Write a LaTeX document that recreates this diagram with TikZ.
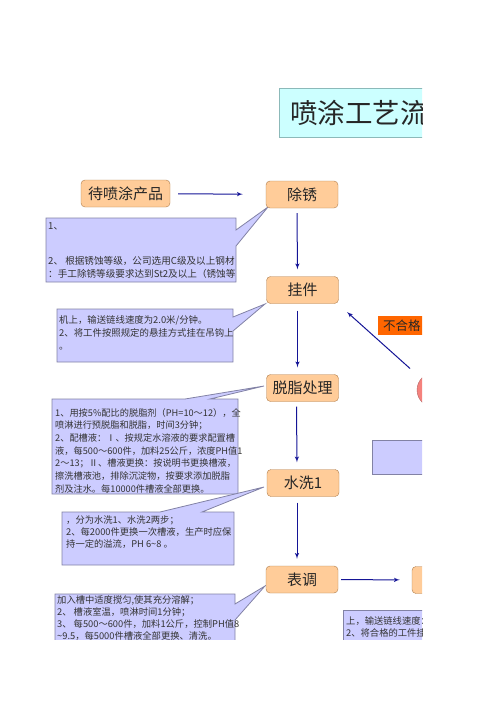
\documentclass[tikz,border=0pt]{standalone}
\usepackage{fontspec}
\setmainfont{Noto Sans CJK SC}
\usepackage{tikz}
\usetikzlibrary{arrows}
\definecolor{boxfill}{RGB}{255,204,153}
\definecolor{boxline}{RGB}{175,125,75}
\definecolor{notefill}{RGB}{204,204,255}
\definecolor{noteline}{RGB}{130,130,165}
\definecolor{titlefill}{RGB}{204,255,255}
\definecolor{titleline}{RGB}{140,185,185}
\definecolor{flowblue}{RGB}{20,20,150}
\definecolor{failfill}{RGB}{255,102,0}
\definecolor{checkfill}{RGB}{245,130,125}

\begin{document}
\begin{tikzpicture}[x=1pt,y=-1pt]

\tikzset{proc/.style = {shape=rectangle,rounded corners=4pt,draw=boxline,fill=boxfill,minimum width=72pt,minimum height=27pt,text=black!85,font=\fontsize{15}{18}\selectfont}}
\tikzset{note/.style = {draw=noteline,fill=notefill,line width=0.8pt}}
\tikzset{notetext/.style = {anchor=north west,inner sep=0pt,align=left,text=black!80,font=\fontsize{9.3}{12.2}\selectfont}}
\tikzset{edge/.style = {->,> = latex',draw=flowblue,line width=1pt}}

\useasboundingbox (0,0) rectangle (500,707);
\begin{scope}
\clip (0,0) rectangle (422,639);

% title
\node[draw=titleline,fill=titlefill,anchor=north west,minimum height=49pt,text width=160pt,inner xsep=11pt,align=left,text=black!85,font=\fontsize{27.5}{30}\selectfont] (title) at (279,88) {喷涂工艺流};

% notes
\draw[note] (46,218) -- (236,218) -- (236,230) -- (268,207) -- (236,246) -- (236,282) -- (46,282) -- cycle;
\draw[note] (57,309) -- (233,309) -- (233,317) -- (265,304) -- (233,331) -- (233,362) -- (57,362) -- cycle;
\draw[note] (52,399) -- (185,399) -- (264,386) -- (210,399) -- (238,399) -- (238,494) -- (52,494) -- cycle;
\draw[note] (62,512) -- (160,512) -- (264,487) -- (202,512) -- (234,512) -- (234,565) -- (62,565) -- cycle;
\draw[note] (55,594) -- (235,594) -- (235,604) -- (265,586) -- (235,620) -- (235,660) -- (55,660) -- cycle;
\draw[note] (343,610) rectangle (450,660);
\draw[note] (372,440) rectangle (450,474);

\node[notetext,font=\fontsize{9.6}{13}\selectfont] (note1a) at (48,222) {1、};
\node[notetext,font=\fontsize{9.6}{13}\selectfont] (note1b) at (48,256) {2、 根据锈蚀等级，公司选用C级及以上钢材\\：手工除锈等级要求达到St2及以上（锈蚀等};
\node[notetext,font=\fontsize{9.4}{13.3}\selectfont] (note2) at (59,315) {机上，输送链线速度为2.0米/分钟。\\2、将工件按照规定的悬挂方式挂在吊钩上\\。};
\node[notetext,font=\fontsize{9.2}{12.7}\selectfont] (note3) at (55,408) {1、用按5\%配比的脱脂剂（PH=10～12），全\\喷淋进行预脱脂和脱脂，时间3分钟；\\2、配槽液：Ⅰ、按规定水溶液的要求配置槽\\液，每500～600件，加料25公斤，浓度PH值1\\2～13；Ⅱ、槽液更换：按说明书更换槽液，\\擦洗槽液池，排除沉淀物，按要求添加脱脂\\剂及注水。每10000件槽液全部更换。};
\node[notetext] (note4) at (66,515) {，分为水洗1、水洗2两步；\\2、每2000件更换一次槽液，生产时应保\\持一定的溢流，PH 6\textasciitilde 8 。};
\node[notetext] (note5) at (57,595) {加入槽中适度搅匀,使其充分溶解；\\2、 槽液室温，喷淋时间1分钟；\\3、 每500～600件，加料1公斤，控制PH值8\\\textasciitilde 9.5，每5000件槽液全部更换、清洗。};
\node[notetext] (note6) at (346,616) {上，输送链线速度：\\2、将合格的工件挂};

% process boxes
\node[proc,minimum width=89pt] (daipen) at (125.5,193.5) {待喷涂产品};
\node[proc] (chuxiu) at (302,194.5) {除锈};
\node[proc] (guajian) at (302.5,290) {挂件};
\node[proc] (tuozhi) at (302.5,388) {脱脂处理};
\node[proc] (shuixi) at (303,483) {水洗1};
\node[proc] (biaotiao) at (302,579.5) {表调};
\node[proc] (xiadao) at (448,580) {};

% check
\node[shape=circle,draw=red!50!black!60,fill=checkfill,minimum size=34pt,inner sep=0pt] (jianyan) at (434,390) {};
\node[fill=failfill,anchor=west,text width=50pt,inner xsep=5pt,align=left,minimum height=19pt,text=black!85,font=\fontsize{12.5}{14}\selectfont] (buhege) at (378,325.5) {不合格};
\coordinate (fanhui) at (347,312);

% edges
\draw[edge,shorten <=8pt,shorten >=23pt] (daipen) -- (chuxiu);
\draw[edge,shorten <=5pt,shorten >=7pt] ([xshift=-5pt]chuxiu.south) -- ([xshift=-5pt]guajian.north);
\draw[edge,shorten <=7pt,shorten >=7pt] ([xshift=-5pt]guajian.south) -- ([xshift=-5pt]tuozhi.north);
\draw[edge,shorten <=5pt,shorten >=7pt] ([xshift=-6pt]tuozhi.south) -- ([xshift=-6pt]shuixi.north);
\draw[edge,shorten <=6pt,shorten >=7pt] ([xshift=-6pt]shuixi.south) -- ([xshift=-5pt]biaotiao.north);
\draw[edge,shorten <=3pt,shorten >=12pt] (biaotiao) -- (xiadao);
\draw[edge,shorten <=15pt] (jianyan) -- (fanhui);

\end{scope}
\end{tikzpicture}
\end{document}
